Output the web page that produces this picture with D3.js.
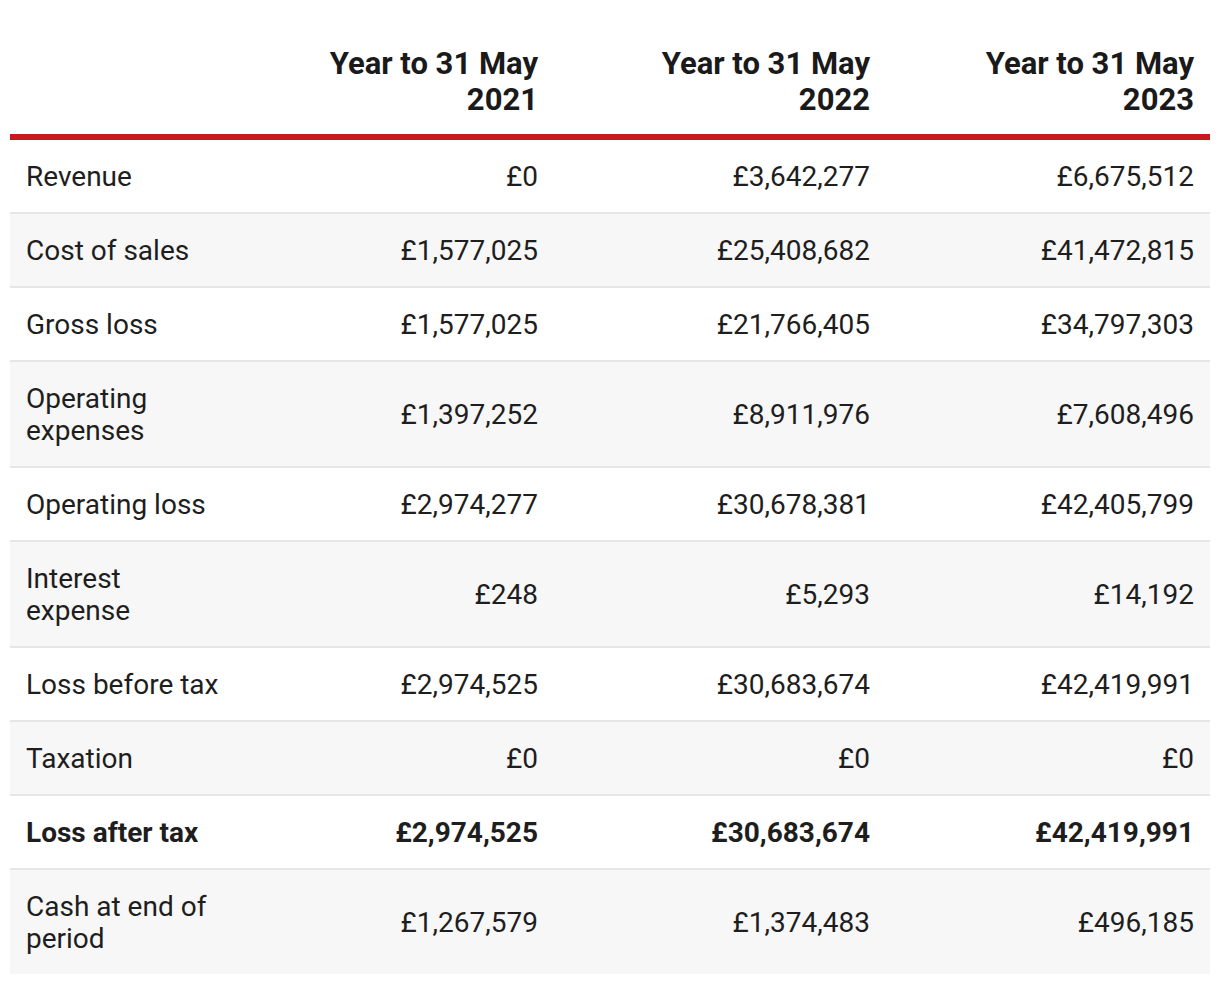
<!DOCTYPE html>
<html>
<head>
<meta charset="utf-8">
<script src="https://cdn.jsdelivr.net/npm/d3@7"></script>
<style>
  html, body { margin: 0; padding: 0; background: #ffffff; }
  body { width: 1220px; height: 984px; overflow: hidden; font-family: Roboto, "Noto Sans", sans-serif; color: #1e1e1e; }
  table { position: absolute; left: 10px; top: 0; width: 1200px; border-collapse: collapse; table-layout: fixed; }
  th { font-weight: 700; font-size: 31px; line-height: 36px; text-align: right; vertical-align: bottom;
       padding: 46px 16px 16px 16px; border-bottom: 6px solid #c8191d; color: #1a1a1a; }
  td { font-size: 28px; line-height: 32px; padding: 21px 16px 19px 16px; vertical-align: middle; border-top: 2px solid #e6e6e6; }
  tbody tr:first-child td { border-top: none; }
  td.num { text-align: right; }
  tr.alt td { background: #f7f7f7; }
  tr.bold td { font-weight: 700; }
</style>
</head>
<body>
<script>
const labels = ["Revenue", "Cost of sales", "Gross loss", "Operating expenses", "Operating loss",
  "Interest expense", "Loss before tax", "Taxation", "Loss after tax", "Cash at end of period"];
const years = [2021, 2022, 2023];
const fy2021 = [0, 1577025, 1577025, 1397252, 2974277, 248, 2974525, 0, 2974525, 1267579];
const fy2022 = [3642277, 25408682, 21766405, 8911976, 30678381, 5293, 30683674, 0, 30683674, 1374483];
const fy2023 = [6675512, 41472815, 34797303, 7608496, 42405799, 14192, 42419991, 0, 42419991, 496185];
const boldRows = ["Loss after tax"];

const series = [fy2021, fy2022, fy2023];
const fmt = v => "£" + d3.format(",")(v);
const colWidths = [229, 315, 332, 324];

const table = d3.select("body").append("table");
table.append("colgroup").selectAll("col").data(colWidths).join("col").style("width", d => d + "px");

const headRow = table.append("thead").append("tr");
headRow.append("th").text("");
headRow.selectAll("th.yr").data(years).join("th").attr("class", "yr")
  .html(d => "Year to 31 May<br>" + d);

const rows = labels.map((l, i) => ({ label: l, values: series.map(s => s[i]), i }));
const tr = table.append("tbody").selectAll("tr").data(rows).join("tr")
  .attr("class", d => (d.i % 2 === 1 ? "alt" : "") + (boldRows.includes(d.label) ? " bold" : ""));
tr.append("td").text(d => d.label);
tr.selectAll("td.num").data(d => d.values).join("td").attr("class", "num").text(fmt);
</script>
</body>
</html>
